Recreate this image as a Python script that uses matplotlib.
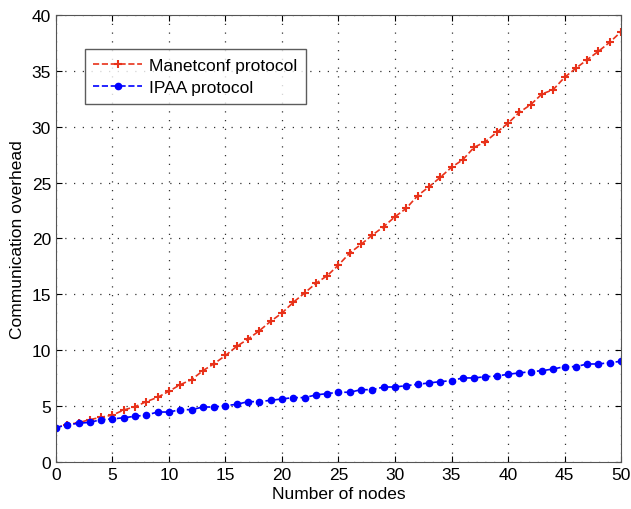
import numpy as np
import matplotlib.pyplot as plt

plt.rcParams['font.family'] = ['Liberation Sans', 'DejaVu Sans']

nodes = list(range(0, 51))

# communication overhead per number of nodes
manetconf = [3.07, 3.34, 3.52, 3.79, 4.0, 4.2, 4.65, 4.95, 5.4, 5.79,
             6.33, 6.92, 7.37, 8.17, 8.8, 9.53, 10.35, 11.0, 11.75, 12.59,
             13.33, 14.29, 15.12, 15.99, 16.67, 17.63, 18.7, 19.48, 20.31, 21.06,
             21.95, 22.7, 23.83, 24.62, 25.47, 26.37, 27.05, 28.16, 28.66, 29.5,
             30.31, 31.29, 31.97, 32.93, 33.32, 34.42, 35.23, 36.0, 36.75, 37.56,
             38.5]
ipaa = [3.07, 3.34, 3.46, 3.55, 3.79, 3.85, 3.96, 4.09, 4.2, 4.47,
        4.47, 4.68, 4.68, 4.92, 4.92, 5.04, 5.16, 5.4, 5.4, 5.52,
        5.64, 5.76, 5.76, 6.0, 6.12, 6.24, 6.24, 6.47, 6.47, 6.71,
        6.71, 6.83, 6.95, 7.07, 7.19, 7.28, 7.52, 7.52, 7.63, 7.69,
        7.85, 7.97, 8.08, 8.17, 8.32, 8.53, 8.53, 8.77, 8.77, 8.89,
        9.01]

fig = plt.figure(figsize=(6.31, 5.10), dpi=100)
ax = fig.add_axes([0.0887, 0.0922, 0.8955, 0.8764])

ax.plot(nodes, manetconf, '--', color='#e8321a', marker='+', markersize=6,
        markeredgewidth=1.5, linewidth=1.2, label='Manetconf protocol')
ax.plot(nodes, ipaa, '--', color='#0000ff', marker='.', markersize=9,
        linewidth=1.2, label='IPAA protocol')

ax.set_xlim(0, 50)
ax.set_ylim(0, 40)
ax.set_xticks(np.arange(0, 51, 5))
ax.set_yticks(np.arange(0, 41, 5))
ax.grid(True, linestyle=(0, (1, 6)), color='#333333', linewidth=0.9)
ax.tick_params(direction='in', top=True, right=True, labelsize=12.5, length=4)
for s in ax.spines.values():
    s.set_color('#555555')

ax.set_xlabel('Number of nodes', fontsize=12.5, labelpad=3)
ax.set_ylabel('Communication overhead', fontsize=12.5, labelpad=5)

leg = ax.legend(loc='upper left', bbox_to_anchor=(0.051, 0.924), borderaxespad=0,
                fontsize=12.5, frameon=True, fancybox=False, borderpad=0.5,
                labelspacing=0.4, handlelength=2.8, handletextpad=0.4)
leg.get_frame().set_edgecolor('#333333')
leg.get_frame().set_linewidth(1.0)

fig.savefig('out.png', dpi=100)
